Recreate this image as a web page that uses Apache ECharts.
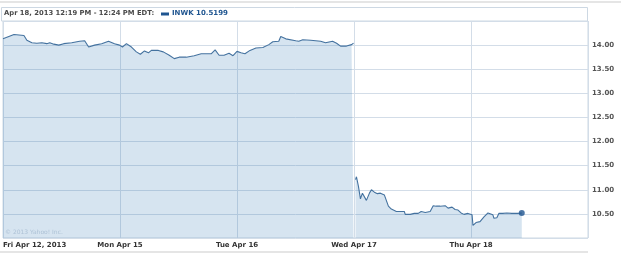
<!DOCTYPE html>
<html>
<head>
<meta charset="utf-8">
<script src="https://cdn.jsdelivr.net/npm/echarts@6/dist/echarts.min.js"></script>
<style>
html,body{margin:0;padding:0;background:#fff;}
#c{width:625px;height:254px;}
</style>
</head>
<body>
<div id="c"></div>
<script>
// Time in trading days since Fri Apr 12 open (day index + fraction of session)
var times = [
  0.000,0.094,0.179,0.204,0.247,0.289,0.332,0.374,0.400,0.434,0.477,0.519,0.587,0.655,0.698,0.732,0.783,0.843,0.902,0.953,0.996,
  1.021,1.055,1.098,1.140,1.174,1.209,1.243,1.268,1.328,1.370,1.421,1.464,1.506,1.566,1.634,1.694,1.779,1.813,1.847,1.889,1.932,1.966,2.000,
  2.034,2.068,2.111,2.162,2.221,2.272,2.306,2.357,2.374,2.417,2.502,2.528,2.562,2.630,2.715,2.757,2.817,2.851,2.885,2.936,2.979,2.996,
  3.004,
  3.013,3.021,3.038,3.055,3.072,3.089,3.106,3.132,3.149,3.174,3.200,3.226,3.260,3.277,3.294,3.319,3.336,3.362,3.430,3.438,3.481,3.515,3.532,3.549,3.574,3.609,3.651,3.677,3.702,3.736,3.779,3.804,3.838,3.864,3.889,3.915,3.940,3.974,3.991,
  4.009,4.017,4.043,4.077,4.111,4.145,4.162,4.187,4.196,4.221,4.238,4.255,4.272,4.306,4.349,4.400,4.434
];
var prices = [
  14.13,14.22,14.20,14.10,14.05,14.04,14.05,14.03,14.05,14.02,14.00,14.03,14.05,14.08,14.09,13.96,14.00,14.03,14.08,14.03,14.00,
  13.96,14.03,13.96,13.86,13.81,13.88,13.84,13.89,13.89,13.86,13.79,13.72,13.75,13.75,13.78,13.82,13.82,13.90,13.79,13.79,13.83,13.78,13.87,
  13.84,13.82,13.89,13.94,13.95,14.01,14.07,14.08,14.18,14.13,14.09,14.08,14.11,14.10,14.08,14.05,14.08,14.04,13.98,13.98,14.01,14.04,
  null,
  11.21,11.27,11.07,10.81,10.93,10.90,10.78,10.93,11.00,10.95,10.92,10.93,10.89,10.88,10.66,10.60,10.64,10.55,10.55,10.49,10.49,10.51,10.53,10.51,10.55,10.53,10.55,10.67,10.66,10.66,10.67,10.62,10.64,10.59,10.58,10.52,10.49,10.51,10.49,
  10.48,10.26,10.32,10.34,10.44,10.52,10.55,10.48,10.41,10.42,10.51,10.55,10.51,10.52,10.51,10.51,10.52
];
var dayLabels = ['Fri Apr 12, 2013','Mon Apr 15','Tue Apr 16','Wed Apr 17','Thu Apr 18'];
var yTicks = ['10.50','11.00','11.50','12.00','12.50','13.00','13.50','14.00'];
var headerText = 'Apr 18, 2013 12:19 PM - 12:24 PM EDT:';
var legendText = 'INWK 10.5199';
var copyrightText = '\u00a9 2013 Yahoo! Inc.';

var seriesData = times.map(function(t,i){ return [t, prices[i]]; });
var lastPoint = seriesData[seriesData.length-1];

var FONT = 'DejaVu Sans';
var chart = echarts.init(document.getElementById('c'), null, {renderer:'canvas'});
chart.setOption({
  animation:false,
  backgroundColor:'#ffffff',
  grid:{left:1, right:37, top:21, bottom:16, show:true, borderColor:'#cdd8e3', borderWidth:1},
  xAxis:{
    type:'value', min:0, max:5, interval:1,
    axisLine:{show:false}, axisTick:{show:false},
    splitLine:{show:true, lineStyle:{color:'#d3dde8', width:1}},
    axisLabel:{
      margin:4, color:'#333', fontFamily:FONT, fontSize:7, fontWeight:'bold',
      alignMinLabel:'left',
      formatter:function(v){ var i=Math.round(v); return dayLabels[i]||''; }
    }
  },
  yAxis:{
    type:'value', position:'right', min:10, max:14.5, interval:0.5,
    axisLine:{show:false}, axisTick:{show:false},
    splitLine:{show:true, lineStyle:{color:'#d3dde8', width:1}},
    axisLabel:{
      margin:4, color:'#555', fontFamily:FONT, fontSize:7, fontWeight:'bold',
      formatter:function(v){ var s=v.toFixed(2); return yTicks.indexOf(s)>=0 ? s : ''; }
    }
  },
  series:[
    {
      type:'line', data:seriesData, showSymbol:false, connectNulls:false,
      lineStyle:{color:'#44729f', width:1.1},
      areaStyle:{color:'rgba(50,120,180,0.2)', opacity:1, origin:'start'},
      z:2
    },
    {
      type:'scatter', data:[lastPoint], symbolSize:6,
      itemStyle:{color:'#1f5590'}, z:5
    }
  ],
  graphic:[
    {type:'line', shape:{x1:0,y1:2,x2:621,y2:2}, style:{stroke:'#dcdcdc', lineWidth:1.5}},
    {type:'rect', shape:{x:1.5,y:7.5,width:586,height:13.5}, style:{fill:'#fff', stroke:'#cdd8e3', lineWidth:1}},
    {type:'text', left:4, top:10, style:{text:headerText, fill:'#4a4a4a', font:'bold 6.8px "DejaVu Sans"'}},
    {type:'rect', shape:{x:161,y:12.5,width:8,height:3}, style:{fill:'#1f5590'}},
    {type:'text', left:172, top:10, style:{text:legendText, fill:'#1f5590', font:'bold 7px "DejaVu Sans"'}},
    {type:'text', left:5, top:229, z:10, style:{text:copyrightText, fill:'#aec2d6', font:'6px "DejaVu Sans"'}},
    {type:'line', shape:{x1:0,y1:252,x2:588,y2:252}, style:{stroke:'#dcdcdc', lineWidth:1.5}}
  ]
});
</script>
</body>
</html>
